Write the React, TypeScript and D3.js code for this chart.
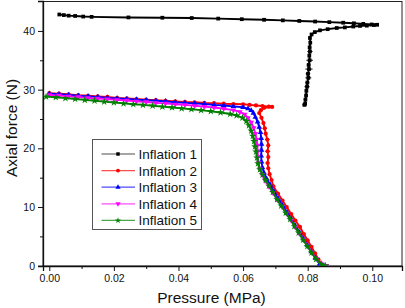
import React, { useEffect, useRef } from 'react';
import * as d3 from 'd3';

// pressure (MPa), axial force (N), optional pressure error bar
const inflation1 = [
  [0.0031, 42.8], [0.0045, 42.7], [0.006, 42.6], [0.008, 42.55], [0.0105, 42.45], [0.0131, 42.4],
  [0.0245, 42.3], [0.035, 42.25], [0.0441, 42.2], [0.0523, 42.1], [0.0596, 42.0], [0.0665, 41.9],
  [0.0723, 41.8], [0.0774, 41.7], [0.0823, 41.6], [0.0867, 41.5], [0.091, 41.4], [0.0943, 41.3],
  [0.0972, 41.2], [0.0998, 41.1], [0.1015, 41.05], [0.1005, 41.0], [0.0983, 40.9], [0.0962, 40.85],
  [0.0941, 40.75], [0.0915, 40.6], [0.089, 40.5], [0.0862, 40.3], [0.0838, 40.1], [0.0822, 39.8],
  [0.0812, 39.4], [0.0807, 38.8, 0.0003], [0.0808, 38.0, 0.0004], [0.0806, 37.2, 0.0005], [0.0807, 36.5, 0.0008],
  [0.0805, 35.8, 0.0004], [0.0806, 35.0, 0.001], [0.0803, 34.2, 0.0006], [0.0804, 33.5, 0.0011],
  [0.0801, 32.7, 0.0007], [0.0802, 32.0, 0.0009], [0.0799, 31.2, 0.0006], [0.0798, 30.5, 0.0008],
  [0.0796, 29.8, 0.0005], [0.0795, 29.0, 0.0004], [0.0793, 28.3, 0.0005], [0.0792, 27.6, 0.0006],
  [0.079, 27.4, 0.0007],
];

const inflation2 = [
  [0, 29.4], [0.003, 29.3], [0.006, 29.2], [0.009, 29.05], [0.012, 28.95], [0.015, 28.85],
  [0.018, 28.75], [0.021, 28.6], [0.024, 28.5], [0.027, 28.4], [0.03, 28.3], [0.033, 28.2],
  [0.036, 28.1], [0.039, 28.0], [0.042, 27.9], [0.045, 27.85], [0.048, 27.75], [0.051, 27.7],
  [0.054, 27.6], [0.057, 27.55], [0.06, 27.5], [0.062, 27.4], [0.064, 27.3], [0.066, 27.2],
  [0.068, 27.1], [0.069, 27.05], [0.0665, 26.9], [0.0655, 26.5], [0.065, 26.0], [0.0657, 25.2, 0.0005],
  [0.0663, 24.3], [0.0667, 23.4, 0.0006], [0.067, 22.5], [0.0675, 21.5, 0.0007], [0.0678, 20.5],
  [0.0676, 19.5, 0.0008], [0.0678, 18.5], [0.0676, 17.5, 0.0006], [0.0678, 16.6], [0.0682, 15.6],
  [0.0688, 14.6], [0.0694, 13.5], [0.0708, 12.3, 0.0006], [0.0722, 11.1], [0.0735, 10.0],
  [0.0749, 8.8, 0.0006], [0.0762, 7.7], [0.0776, 6.6], [0.0788, 5.4, 0.0005], [0.08, 4.3],
  [0.0812, 3.2], [0.0823, 2.1], [0.0833, 1.1], [0.0848, 0.0],
];

const inflation3 = [
  [0, 29.3], [0.003, 29.2], [0.006, 29.1], [0.009, 28.95], [0.012, 28.85], [0.015, 28.75],
  [0.018, 28.6], [0.021, 28.5], [0.024, 28.4], [0.027, 28.3], [0.03, 28.2], [0.033, 28.1],
  [0.036, 28.0], [0.039, 27.85], [0.042, 27.75], [0.045, 27.65], [0.048, 27.55], [0.051, 27.4],
  [0.054, 27.3], [0.057, 27.15], [0.06, 27.0], [0.0615, 26.75], [0.0625, 26.45], [0.0632, 26.0],
  [0.0638, 25.3], [0.0645, 24.5, 0.0005], [0.065, 23.6], [0.0654, 22.7], [0.0656, 21.7, 0.0006],
  [0.0657, 20.7], [0.0657, 19.7], [0.0656, 18.7, 0.0005], [0.0657, 17.7], [0.066, 16.7],
  [0.0665, 15.8], [0.0673, 14.8], [0.0684, 13.8], [0.0696, 12.6], [0.0709, 11.4], [0.0722, 10.3],
  [0.0736, 9.1, 0.0006], [0.0749, 8.0], [0.0762, 6.8], [0.0775, 5.7], [0.0787, 4.6], [0.0799, 3.5],
  [0.0811, 2.4], [0.0824, 1.3], [0.0837, 0.3], [0.085, 0.0],
];

const inflation4 = [
  [0, 29.1], [0.003, 29.0], [0.006, 28.85], [0.009, 28.75], [0.012, 28.6], [0.015, 28.5],
  [0.018, 28.4], [0.021, 28.25], [0.024, 28.15], [0.027, 28.0], [0.03, 27.9], [0.033, 27.75],
  [0.036, 27.65], [0.039, 27.5], [0.042, 27.4], [0.045, 27.25], [0.048, 27.1], [0.051, 26.95],
  [0.054, 26.75], [0.057, 26.5], [0.059, 26.2], [0.0605, 25.8], [0.0615, 25.2], [0.0625, 24.4],
  [0.0633, 23.5], [0.0638, 22.5], [0.0642, 21.5], [0.0644, 20.5, 0.0005], [0.0645, 19.5],
  [0.0646, 18.5], [0.0648, 17.5], [0.0652, 16.5], [0.0659, 15.5], [0.0668, 14.5], [0.068, 13.5],
  [0.0693, 12.4], [0.0706, 11.2], [0.072, 10.1], [0.0734, 8.9], [0.0748, 7.8], [0.0761, 6.6],
  [0.0774, 5.5, 0.0006], [0.0787, 4.4], [0.08, 3.3], [0.0813, 2.2], [0.0826, 1.2], [0.084, 0.4],
  [0.0858, 0.0],
];

const inflation5 = [
  [-0.001, 28.8], [0.002, 28.7], [0.005, 28.55], [0.008, 28.4], [0.011, 28.25], [0.014, 28.1],
  [0.017, 27.95], [0.02, 27.8], [0.023, 27.65], [0.026, 27.5], [0.029, 27.4], [0.032, 27.25],
  [0.035, 27.1], [0.038, 26.95], [0.041, 26.8], [0.044, 26.65], [0.047, 26.5], [0.05, 26.3],
  [0.053, 26.1], [0.056, 25.85], [0.058, 25.6], [0.0598, 25.2, 0.0006], [0.061, 24.6], [0.0618, 23.9],
  [0.0625, 23.0, 0.0006], [0.063, 22.1], [0.0634, 21.2], [0.0637, 20.3, 0.0007], [0.064, 19.4],
  [0.0643, 18.4], [0.0646, 17.4, 0.0006], [0.0652, 16.4], [0.066, 15.5], [0.067, 14.6], [0.068, 13.6],
  [0.0692, 12.5], [0.0705, 11.3, 0.0006], [0.0718, 10.2], [0.0732, 9.0], [0.0746, 7.9, 0.0005],
  [0.0759, 6.7], [0.0772, 5.6], [0.0786, 4.4], [0.0799, 3.3], [0.0812, 2.2, 0.0005], [0.0826, 1.1],
  [0.0842, 0.3], [0.0855, 0.0],
];

const seriesNames = ['Inflation 1', 'Inflation 2', 'Inflation 3', 'Inflation 4', 'Inflation 5'];
const seriesData = [inflation1, inflation2, inflation3, inflation4, inflation5];
const seriesColors = ['#000000', '#ff0000', '#0000ff', '#ff00ff', '#008000'];
const seriesSymbols = [d3.symbolSquare, d3.symbolCircle, d3.symbolTriangle, d3.symbolTriangle, d3.symbolStar];

const xTicks = [0, 0.02, 0.04, 0.06, 0.08, 0.1];
const xMinor = [0.01, 0.03, 0.05, 0.07, 0.09];
const yTicks = [0, 10, 20, 30, 40];
const yMinor = [5, 15, 25, 35];

const FONT = '"Liberation Sans", Arial, sans-serif';

const App = () => {
  const svgRef = useRef<SVGSVGElement>(null);

  useEffect(() => {
    const width = 405,
      height = 308;
    const left = 43,
      right = 402,
      top = 1,
      bottom = 266;

    const svg = d3.select(svgRef.current);
    svg.selectAll('*').remove();

    const x = d3.scaleLinear().domain([-0.00195, 0.1092]).range([left, right]);
    const y = d3.scaleLinear().domain([-0.05, 45.1]).range([bottom, top]);

    // frame
    svg
      .append('rect')
      .attr('x', left)
      .attr('y', top + 0.5)
      .attr('width', right - left)
      .attr('height', bottom - top - 0.5)
      .attr('fill', 'none')
      .attr('stroke', '#222')
      .attr('stroke-width', 1);

    const xAxis = svg
      .append('g')
      .attr('transform', `translate(0,${bottom})`)
      .call(d3.axisBottom(x).tickValues(xTicks).tickSize(5).tickPadding(4).tickFormat(d3.format('.2f')));
    svg
      .append('g')
      .attr('transform', `translate(0,${bottom})`)
      .call(d3.axisBottom(x).tickValues(xMinor).tickSize(3).tickFormat(() => ''))
      .select('.domain')
      .remove();

    const yAxis = svg
      .append('g')
      .attr('transform', `translate(${left},0)`)
      .call(d3.axisLeft(y).tickValues(yTicks).tickSize(5).tickPadding(3));
    svg
      .append('g')
      .attr('transform', `translate(${left},0)`)
      .call(d3.axisLeft(y).tickValues(yMinor).tickSize(3).tickFormat(() => ''))
      .select('.domain')
      .remove();

    [xAxis, yAxis].forEach((g) => {
      g.select('.domain').attr('stroke', '#111').attr('stroke-width', 1.3);
      g.selectAll('text').attr('font-family', FONT).attr('font-size', 10.5).attr('fill', '#111');
    });
    svg.selectAll('.tick line').attr('stroke', '#111');

    svg
      .append('clipPath')
      .attr('id', 'plotclip')
      .append('rect')
      .attr('x', left)
      .attr('y', top)
      .attr('width', right - left)
      .attr('height', bottom - top);

    const plot = svg.append('g').attr('clip-path', 'url(#plotclip)');
    const line = d3
      .line<number[]>()
      .x((d) => x(d[0]))
      .y((d) => y(d[1]));

    seriesData.forEach((data, i) => {
      const g = plot.append('g');
      g.append('path')
        .attr('d', line(data))
        .attr('fill', 'none')
        .attr('stroke', seriesColors[i])
        .attr('stroke-width', 1.9)
        .attr('stroke-linejoin', 'round');
      // pressure error bars
      g.selectAll('line.err')
        .data(data.filter((d) => d.length > 2))
        .join('line')
        .attr('class', 'err')
        .attr('x1', (d) => x(d[0] - d[2]))
        .attr('x2', (d) => x(d[0] + d[2]))
        .attr('y1', (d) => y(d[1]))
        .attr('y2', (d) => y(d[1]))
        .attr('stroke', seriesColors[i])
        .attr('stroke-width', 1);
      g.selectAll('path.mk')
        .data(data)
        .join('path')
        .attr('class', 'mk')
        .attr('d', d3.symbol().type(seriesSymbols[i]).size(i === 4 ? 18 : 14))
        .attr('transform', (d) => `translate(${x(d[0])},${y(d[1])})${i === 3 ? ' rotate(180)' : ''}`)
        .attr('fill', seriesColors[i]);
    });

    // legend
    const lg = svg.append('g');
    lg.append('rect')
      .attr('x', 92.5)
      .attr('y', 139.5)
      .attr('width', 109)
      .attr('height', 90)
      .attr('fill', '#fff')
      .attr('stroke', '#555')
      .attr('stroke-width', 1);
    seriesNames.forEach((name, i) => {
      const ly = 154 + i * 16.6;
      lg.append('line')
        .attr('x1', 101.5)
        .attr('x2', 135)
        .attr('y1', ly)
        .attr('y2', ly)
        .attr('stroke', seriesColors[i])
        .attr('stroke-opacity', 0.7)
        .attr('stroke-width', 1.2);
      lg.append('path')
        .attr('d', d3.symbol().type(seriesSymbols[i]).size(12))
        .attr('transform', `translate(118,${ly})${i === 3 ? ' rotate(180)' : ''}`)
        .attr('fill', seriesColors[i]);
      lg.append('text')
        .attr('x', 138.5)
        .attr('y', ly + 5)
        .attr('font-family', FONT)
        .attr('font-size', 13.5)
        .attr('fill', '#111')
        .text(name);
    });

    svg
      .append('text')
      .attr('x', (left + right) / 2 - 11)
      .attr('y', 303)
      .attr('text-anchor', 'middle')
      .attr('font-family', FONT)
      .attr('font-size', 15.5)
      .attr('fill', '#111')
      .text('Pressure (MPa)');

    svg
      .append('text')
      .attr('transform', `translate(17,128) rotate(-90)`)
      .attr('text-anchor', 'middle')
      .attr('font-family', FONT)
      .attr('font-size', 15.5)
      .attr('fill', '#111')
      .text('Axial force (N)');

    svg.attr('width', width).attr('height', height);
  }, []);

  return (
    <svg
      ref={svgRef}
      width={405}
      height={308}
      style={{ position: 'absolute', left: 0, top: 0, background: '#fff' }}
    ></svg>
  );
};

export default App;
